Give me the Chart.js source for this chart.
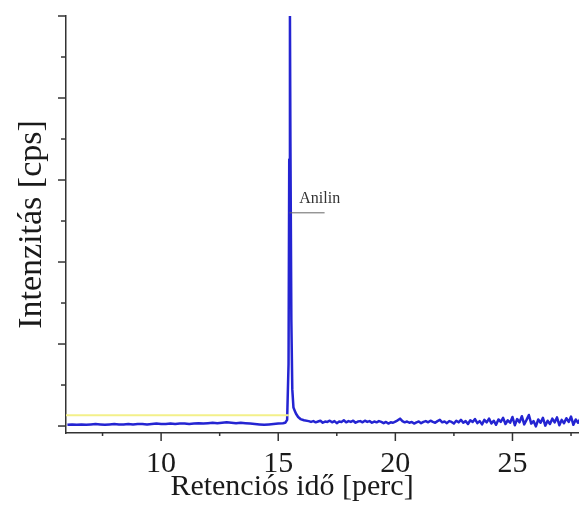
<!DOCTYPE html>
<html>
<head>
<meta charset="utf-8">
<script src="https://cdn.jsdelivr.net/npm/chart.js@4.4.1/dist/chart.umd.min.js"></script>
<style>
  body { margin: 0; background: #fff; }
  #wrap { width: 579px; height: 515px; }
</style>
</head>
<body>
<div id="wrap"><canvas id="chromChart" width="579" height="515"></canvas></div>
<script>
// retention time [min] and intensity (arbitrary units, 0..10 full scale)
const times = [
  6.0, 6.2, 6.4, 6.6, 6.8, 7.0, 7.2, 7.4, 7.6, 7.8, 8.0, 8.2, 8.4, 8.6, 8.8, 9.0, 9.2, 9.4, 9.6, 9.8,
  10.0, 10.2, 10.4, 10.6, 10.8, 11.0, 11.2, 11.4, 11.6, 11.8, 12.0, 12.2, 12.4, 12.6, 12.8, 13.0, 13.2, 13.4, 13.6, 13.8,
  14.0, 14.2, 14.4, 14.6, 14.8, 15.0, 15.2, 15.3, 15.38, 15.44, 15.47, 15.5, 15.52, 15.56, 15.6, 15.65, 15.7, 15.76, 15.85, 15.95,
  16.1, 16.3, 16.4, 16.5, 16.6, 16.7, 16.8, 16.9, 17.0, 17.1, 17.2, 17.3, 17.4, 17.5, 17.6, 17.7, 17.8, 17.9,
  18.0, 18.1, 18.2, 18.3, 18.4, 18.5, 18.6, 18.7, 18.8, 18.9, 19.0, 19.1, 19.2, 19.3, 19.4, 19.5, 19.6, 19.7, 19.8, 19.9,
  20.0, 20.1, 20.2, 20.3, 20.4, 20.5, 20.6, 20.7, 20.8, 20.9, 21.0, 21.1, 21.2, 21.3, 21.4, 21.5, 21.6, 21.7, 21.8, 21.9,
  22.0, 22.1, 22.2, 22.3, 22.4, 22.5, 22.6, 22.7, 22.8, 22.9, 23.0, 23.1, 23.2, 23.3, 23.4, 23.5, 23.6, 23.7, 23.8, 23.9,
  24.0, 24.1, 24.2, 24.3, 24.4, 24.5, 24.6, 24.7, 24.8, 24.9, 25.0, 25.1, 25.2, 25.3, 25.4, 25.5, 25.6, 25.7, 25.8, 25.9,
  26.0, 26.1, 26.2, 26.3, 26.4, 26.5, 26.6, 26.7, 26.8, 26.9, 27.0, 27.1, 27.2, 27.3, 27.4, 27.5, 27.6, 27.7, 27.8, 27.9
];
const intensity = [
  .03, .04, .03, .04, .03, .04, .05, .04, .03, .04, .05, .04, .04, .05, .04, .05, .05, .04, .05, .06,
  .05, .05, .06, .05, .06, .06, .05, .06, .07, .06, .07, .08, .07, .08, .09, .08, .07, .08, .07, .06,
  .05, .04, .03, .04, .05, .06, .07, .08, .15, 1.5, 6.5, 10, 7.0, 2.6, .9, .45, .38, .30, .22, .17,
  .14, .12, .10, .12, .09, .11, .13, .08, .11, .10, .13, .09, .12, .07, .11, .10, .14, .09,
  .12, .10, .13, .08, .11, .12, .09, .13, .10, .12, .08, .11, .09, .12, .10, .07, .10, .06, .09, .08,
  .11, .14, .18, .12, .09, .11, .08, .10, .06, .09, .11, .07, .10, .12, .09, .13, .10, .08, .12, .15,
  .09, .11, .07, .12, .10, .06, .13, .09, .15, .08, .12, .05, .14, .10, .17, .07, .12, .04, .15, .09,
  .18, .06, .13, .03, .16, .10, .20, .05, .14, .08, .22, .02, .17, .09, .24, .04, .15, .27, .06, .12,
  -.01, .16, .08, .20, .01, .13, .05, .18, .09, .21, .02, .15, .07, .19, .10, .23, .03, .16, .08, .18
];
// faint yellow reference trace on the left part
const refTimes = [5.94, 15.45];
const refLevel = [0.26, 0.26];

const xTicks = [7.5, 10, 12.5, 15, 17.5, 20, 22.5, 25, 27.5];
const yTicks = [0, 1, 2, 3, 4, 5, 6, 7, 8, 9, 10];

const peakLabel = 'Anilin';
const peakLabelAt = { x: 15.9, y: 5.45 };
const peakLineFrom = { x: 15.48, y: 5.2 };
const peakLineTo = { x: 16.98, y: 5.2 };

const xTitle = 'Retenciós idő [perc]';
const yTitle = 'Intenzitás [cps]';
const serif = "'Liberation Serif', 'DejaVu Serif', serif";
const axisColor = '#333';

const decor = {
  id: 'decor',
  afterDraw(chart) {
    const { ctx, scales: { x, y } } = chart;
    ctx.save();
    ctx.strokeStyle = axisColor;
    ctx.lineWidth = 1.5;
    // x tick marks
    x.ticks.forEach(t => {
      const px = x.getPixelForValue(t.value);
      const len = t.value % 5 === 0 ? 8 : 3;
      ctx.beginPath();
      ctx.moveTo(px, y.bottom);
      ctx.lineTo(px, y.bottom + len);
      ctx.stroke();
    });
    // y tick marks
    y.ticks.forEach(t => {
      const py = y.getPixelForValue(t.value);
      const len = t.value % 2 === 0 ? 8 : 5;
      ctx.beginPath();
      ctx.moveTo(x.left, py);
      ctx.lineTo(x.left - len, py);
      ctx.stroke();
    });
    // peak annotation
    ctx.strokeStyle = '#666';
    ctx.lineWidth = 1;
    ctx.beginPath();
    ctx.moveTo(x.getPixelForValue(peakLineFrom.x), y.getPixelForValue(peakLineFrom.y));
    ctx.lineTo(x.getPixelForValue(peakLineTo.x), y.getPixelForValue(peakLineTo.y));
    ctx.stroke();
    ctx.fillStyle = '#333';
    ctx.font = '16px ' + serif;
    ctx.textBaseline = 'alphabetic';
    ctx.fillText(peakLabel, x.getPixelForValue(peakLabelAt.x), y.getPixelForValue(peakLabelAt.y));
    // x axis title
    ctx.fillStyle = '#1a1a1a';
    ctx.font = '30px ' + serif;
    ctx.textAlign = 'center';
    ctx.fillText(xTitle, 292, 495);
    ctx.restore();
  }
};

new Chart(document.getElementById('chromChart'), {
  type: 'line',
  data: {
    datasets: [
      {
        data: refTimes.map((t, i) => ({ x: t, y: refLevel[i] })),
        borderColor: '#f3f08a',
        borderWidth: 2,
        pointRadius: 0,
        fill: false
      },
      {
        data: times.map((t, i) => ({ x: t, y: intensity[i] })),
        borderColor: '#2424d2',
        borderWidth: 2.5,
        borderJoinStyle: 'round',
        pointRadius: 0,
        tension: 0,
        fill: false
      }
    ]
  },
  options: {
    responsive: false,
    animation: false,
    events: [],
    layout: { padding: { top: 16, right: 0, left: 0, bottom: 0 } },
    plugins: { legend: { display: false }, tooltip: { enabled: false } },
    scales: {
      x: {
        type: 'linear',
        min: 5.94,
        max: 27.84,
        afterBuildTicks: s => { s.ticks = xTicks.map(v => ({ value: v })); },
        afterFit: s => { s.height = 82; },
        grid: { display: false },
        border: { display: true, color: axisColor, width: 1.5 },
        ticks: {
          autoSkip: false,
          maxRotation: 0,
          padding: 5,
          color: '#1a1a1a',
          font: { family: serif, size: 30 },
          callback: v => (v % 5 === 0 ? String(v) : '')
        }
      },
      y: {
        min: -0.17,
        max: 10,
        afterBuildTicks: s => { s.ticks = yTicks.map(v => ({ value: v })); },
        afterFit: s => { s.width = 66; },
        grid: { display: false },
        border: { display: true, color: axisColor, width: 1.5 },
        ticks: { display: false },
        title: {
          display: true,
          text: yTitle,
          color: '#1a1a1a',
          font: { family: serif, size: 34 },
          padding: { top: 12, bottom: 0 }
        }
      }
    }
  },
  plugins: [decor]
});
</script>
</body>
</html>
